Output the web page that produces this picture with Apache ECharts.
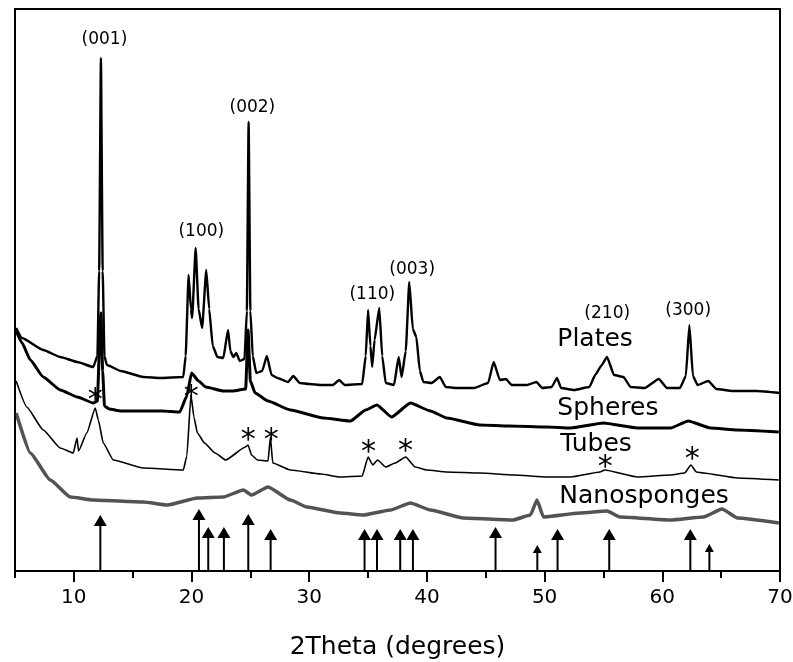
<!DOCTYPE html>
<html>
<head>
<meta charset="utf-8">
<script src="https://cdn.jsdelivr.net/npm/echarts@6/dist/echarts.min.js"></script>
<style>
  html, body { margin: 0; padding: 0; background: #fff; }
  #chart { width: 793px; height: 662px; }
</style>
</head>
<body>
<div id="chart"></div>
<script>
// XRD patterns, 2Theta (degrees) vs intensity (arbitrary units, offset per sample)
var plates = [
  [5.1, 243], [5.6, 233], [7.4, 221], [8.85, 214], [10.3, 209], [11.65, 204], [12.0, 215], [12.15, 300],
  [12.3, 513], [12.45, 300], [12.6, 215], [12.8, 206], [14.0, 200], [15.9, 194], [17.35, 193], [19.3, 194],
  [19.5, 215], [19.75, 296], [19.95, 262], [20.05, 253], [20.35, 323], [20.6, 262], [20.9, 243], [21.25, 301],
  [21.5, 262], [21.8, 225], [22.2, 214], [22.7, 213], [23.1, 241], [23.3, 220], [23.55, 214], [23.8, 218],
  [24.1, 210], [24.5, 212], [24.7, 260], [24.85, 449], [25.0, 260], [25.2, 215], [25.5, 198], [26.0, 200],
  [26.4, 215], [26.8, 196], [27.3, 193], [28.2, 189], [28.65, 195], [29.2, 188], [30.0, 187], [31.0, 186],
  [32.0, 186], [32.55, 191], [33.0, 186], [34.5, 187], [34.8, 215], [35.0, 261], [35.2, 225], [35.35, 204],
  [35.55, 231], [35.95, 263], [36.2, 215], [36.5, 188], [37.2, 186], [37.6, 214], [37.85, 194], [38.2, 220],
  [38.5, 289], [38.8, 242], [39.1, 234], [39.4, 200], [39.7, 189], [40.4, 188], [41.1, 194], [41.6, 184],
  [42.5, 183], [44.0, 183], [45.2, 188], [45.67, 209], [46.2, 191], [46.7, 192], [47.2, 186], [48.5, 186],
  [49.3, 189], [49.8, 183], [50.6, 184], [51.05, 193], [51.4, 183], [52.5, 181], [53.8, 184], [54.3, 196],
  [54.8, 205], [55.3, 214], [55.9, 196], [56.7, 194], [57.3, 184], [58.5, 183], [59.7, 192], [60.4, 183],
  [61.5, 183], [62.0, 195], [62.3, 246], [62.6, 195], [63.0, 186], [63.9, 190], [64.6, 182], [66.0, 180],
  [68.0, 180], [70.0, 178]
];
var spheres = [
  [5.1, 240], [5.6, 228], [6.3, 211], [7.4, 194], [8.85, 181], [10.3, 174], [11.65, 168], [12.0, 170],
  [12.2, 230], [12.3, 258], [12.45, 200], [12.6, 165], [13.0, 162], [14.0, 160], [15.9, 160], [17.5, 160],
  [19.0, 159], [19.6, 175], [20.0, 198], [20.6, 190], [21.2, 184], [22.7, 180], [23.5, 180], [24.6, 182],
  [24.8, 241], [25.0, 190], [25.4, 178], [26.5, 170], [28.4, 161], [31.2, 153], [33.5, 150], [34.8, 161],
  [35.75, 166], [37.0, 154], [38.6, 168], [40.3, 160], [41.7, 153], [44.5, 146], [47.0, 145], [50.2, 144],
  [52.2, 143], [55.0, 148], [57.9, 143], [60.7, 143], [62.2, 150], [64.1, 143], [66.4, 141], [69.9, 139]
];
var tubes = [
  [5.1, 190], [6.0, 164], [7.4, 141], [8.85, 123], [9.95, 118], [10.27, 133], [10.4, 120], [11.1, 138],
  [11.82, 163], [12.08, 151], [12.5, 128], [13.35, 111], [15.9, 103], [19.3, 101], [19.6, 115], [19.95, 176],
  [20.2, 154], [20.5, 138], [21.1, 128], [22.0, 118], [22.9, 111], [24.57, 124], [24.8, 126], [25.1, 116],
  [25.6, 111], [26.5, 110], [26.7, 134], [26.9, 108], [28.4, 101], [31.0, 97], [32.6, 94], [34.5, 95],
  [35.0, 114], [35.4, 106], [35.8, 111], [36.5, 104], [37.3, 108], [38.2, 114], [39.0, 104], [40.0, 101],
  [41.7, 99], [44.5, 98], [47.4, 96], [50.2, 94], [52.2, 94], [54.7, 99], [55.1, 101], [57.9, 94],
  [60.7, 96], [61.9, 98], [62.43, 106], [62.9, 99], [63.5, 98], [66.4, 93], [69.9, 91]
];
var nanosponges = [
  [5.1, 158], [6.3, 118], [8.0, 91], [9.7, 74], [11.65, 71], [15.9, 69], [17.95, 66], [20.5, 73],
  [22.7, 74], [24.4, 81], [25.1, 76], [26.5, 84], [28.4, 71], [29.8, 64], [32.6, 58], [34.6, 56],
  [36.9, 61], [38.6, 68], [40.3, 61], [43.1, 53], [47.3, 51], [48.8, 56], [49.35, 71], [49.9, 54],
  [53.0, 58], [55.3, 60], [56.4, 54], [60.7, 51], [63.5, 54], [65.07, 62], [66.4, 53], [69.9, 48]
];

// reference pattern markers: position (degrees) and relative height
var refPos = [12.25, 20.63, 21.42, 22.75, 24.82, 26.72, 34.70, 35.76, 37.73, 38.81, 45.83, 49.38, 51.10, 55.49, 62.38, 64.00];
var refHeight = [56, 62, 44, 44, 57, 42, 42, 42, 42, 42, 44, 26, 42, 42, 42, 27];

// annotations
var peakNames = ['(001)', '(002)', '(100)', '(110)', '(003)', '(210)', '(300)'];
var peakX = [12.6, 25.17, 20.83, 35.36, 38.75, 55.32, 62.2];
var peakY = [531, 463, 339, 276, 301, 257, 260];

var sampleNames = ['Plates', 'Spheres', 'Tubes', 'Nanosponges'];
var sampleX = [51.08, 51.08, 51.33, 51.25];
var sampleY = [232, 163, 127, 75];

var starX = [11.82, 19.98, 24.82, 26.78, 35.03, 38.17, 55.15, 62.54];
var starY = [176, 179, 136, 136, 124, 125, 109, 117];

var FONT = 'DejaVu Sans';
var chart = echarts.init(document.getElementById('chart'));

function textPoints(xs, ys, names) {
  return xs.map(function (x, i) {
    return { value: [x, ys[i]], name: names ? names[i] : '*' };
  });
}

function traceSeries(name, data, color, width) {
  return {
    name: name, type: 'line', data: data, showSymbol: false,
    smooth: 0.15, smoothMonotone: 'x',
    lineStyle: { color: color, width: width }
  };
}

function textSeries(data, label) {
  label.show = true;
  label.formatter = '{b}';
  label.color = '#000';
  label.opacity = 1;
  return {
    type: 'scatter', symbolSize: 0, data: data,
    itemStyle: { opacity: 1 }, label: label
  };
}

var option = {
  backgroundColor: '#fff',
  animation: false,
  grid: { left: 15, right: 13, top: 9, bottom: 91, outerBoundsMode: 'none' },
  xAxis: [
    {
      type: 'value', min: 5, max: 70,
      name: '2Theta (degrees)', nameLocation: 'middle', nameGap: 64,
      nameTextStyle: { fontFamily: FONT, fontSize: 25, color: '#000' },
      axisLine: { lineStyle: { color: '#000', width: 2 } },
      axisTick: { length: 11, lineStyle: { color: '#000', width: 2 }, customValues: [10, 20, 30, 40, 50, 60, 70] },
      axisLabel: { fontFamily: FONT, fontSize: 20, color: '#000', margin: 17, customValues: [10, 20, 30, 40, 50, 60, 70] },
      splitLine: { show: false }
    },
    {
      type: 'value', min: 5, max: 70, position: 'bottom',
      axisLine: { show: false },
      axisTick: { length: 7, lineStyle: { color: '#000', width: 2 }, customValues: [5, 15, 25, 35, 45, 55, 65] },
      axisLabel: { show: false },
      splitLine: { show: false }
    },
    {
      type: 'value', min: 5, max: 70, position: 'top',
      axisLine: { lineStyle: { color: '#000', width: 2 } },
      axisTick: { show: false }, axisLabel: { show: false }, splitLine: { show: false }
    }
  ],
  yAxis: [
    {
      type: 'value', min: 0, max: 562,
      axisLine: { show: true, lineStyle: { color: '#000', width: 2 } },
      axisTick: { show: false }, axisLabel: { show: false }, splitLine: { show: false }
    },
    {
      type: 'value', min: 0, max: 562, position: 'right',
      axisLine: { show: true, lineStyle: { color: '#000', width: 2 } },
      axisTick: { show: false }, axisLabel: { show: false }, splitLine: { show: false }
    }
  ],
  series: [
    traceSeries('Nanosponges', nanosponges, 'rgba(40,40,40,0.8)', 3.5),
    traceSeries('Tubes', tubes, '#000', 1.6),
    traceSeries('Spheres', spheres, '#000', 3),
    traceSeries('Plates', plates, '#000', 2.4),
    {
      type: 'custom',
      data: refPos.map(function (x, i) { return [x, refHeight[i]]; }),
      renderItem: function (params, api) {
        var base = api.coord([api.value(0), 0]);
        var tip = api.coord([api.value(0), api.value(1)]);
        var small = api.value(1) < 35;
        var w = small ? 9 : 13, h = small ? 8 : 11;
        return {
          type: 'group',
          children: [
            { type: 'line', shape: { x1: base[0], y1: base[1], x2: tip[0], y2: tip[1] + h },
              style: { stroke: '#000', lineWidth: 2 } },
            { type: 'polygon', shape: { points: [[tip[0], tip[1]], [tip[0] - w / 2, tip[1] + h], [tip[0] + w / 2, tip[1] + h]] },
              style: { fill: '#000' } }
          ]
        };
      }
    },
    textSeries(textPoints(peakX, peakY, peakNames),
      { position: 'inside', fontFamily: FONT, fontSize: 17 }),
    textSeries(textPoints(sampleX, sampleY, sampleNames),
      { position: 'right', distance: 0, fontFamily: FONT, fontSize: 25 }),
    textSeries(textPoints(starX, starY),
      { position: 'inside', fontFamily: FONT, fontSize: 30, offset: [0, 6] })
  ]
};
chart.setOption(option);
</script>
</body>
</html>
